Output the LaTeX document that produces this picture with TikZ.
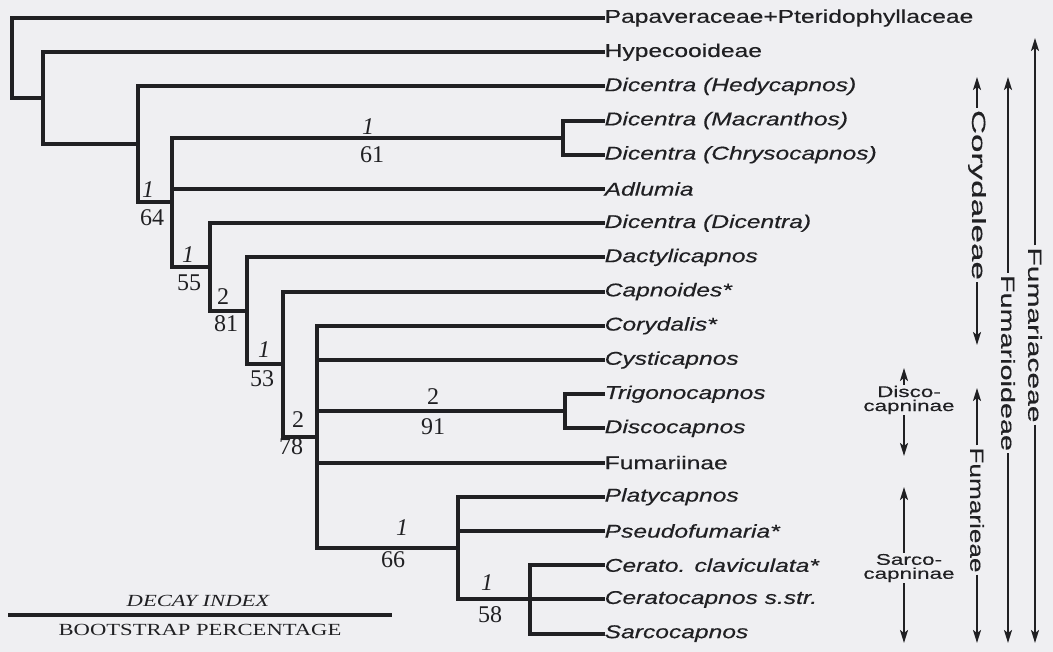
\documentclass[tikz,border=0pt]{standalone}
\usepackage{fontspec}
\usepackage{graphicx}
\usetikzlibrary{arrows.meta}
\newfontfamily\leaffont{Liberation Sans}[FakeStretch=1.33,FakeBold=0.4]
\newfontfamily\grpfont{Liberation Sans}[FakeStretch=1.45,FakeBold=0.3]
\newfontfamily\numfont{Liberation Serif}
\newfontfamily\legfont{Liberation Serif}[FakeStretch=1.33]
\definecolor{ink}{RGB}{32,32,35}
\definecolor{paper}{RGB}{239,239,242}
\newcommand{\stretchlab}[2]{\resizebox{#1}{\height}{#2}}
\begin{document}
\begin{tikzpicture}[x=1pt,y=-1pt,
  br/.style={line width=4.1pt, draw=ink, line join=miter, line cap=rect},
  leaf/.style={anchor=west, inner xsep=1.5pt, inner ysep=0pt, font=\fontsize{18.5}{20}\leaffont, text=ink},
  leafi/.style={leaf, font=\fontsize{18.5}{20}\leaffont\itshape},
  dn/.style={font=\fontsize{24}{26}\numfont\itshape, text=ink, inner sep=0pt},
  bn/.style={font=\fontsize{24}{26}\numfont, text=ink, inner sep=0pt},
  grp/.style={rotate=-90, inner sep=2pt, font=\fontsize{19}{20}\leaffont, text=ink},
  sub/.style={align=center, inner sep=1pt, font=\fontsize{15.5}{14}\grpfont, text=ink},
  arr/.style={line width=1.9pt, draw=ink, -{Stealth[length=13pt,width=8pt,inset=3pt]}},
]
\useasboundingbox (0,0) rectangle (1053,652);
\fill[paper] (0,0) rectangle (1053,652);

% leaves
\node[leaf]  (P)   at (603,18)    {Papaveraceae+Pteridophyllaceae};
\node[leaf]  (H)   at (603,52.2)  {Hypecooideae};
\node[leafi] (Hed) at (603,86.4)  {Dicentra (Hedycapnos)};
\node[leafi] (Mac) at (603,120.6) {Dicentra (Macranthos)};
\node[leafi] (Chr) at (603,154.8) {Dicentra (Chrysocapnos)};
\node[leafi] (Adl) at (603,189)   {Adlumia};
\node[leafi] (DD)  at (603,223.2) {Dicentra (Dicentra)};
\node[leafi] (Dac) at (603,257.4) {Dactylicapnos};
\node[leafi] (Cap) at (603,291.6) {Capnoides*};
\node[leafi] (Cor) at (603,325.8) {Corydalis*};
\node[leafi] (Cys) at (603,360)   {Cysticapnos};
\node[leafi] (Tri) at (603,394.2) {Trigonocapnos};
\node[leafi] (Dis) at (603,428.4) {Discocapnos};
\node[leaf]  (Fum) at (603,462.6) {Fumariinae};
\node[leafi] (Pla) at (603,496.8) {Platycapnos};
\node[leafi] (Pse) at (603,531)   {Pseudofumaria*};
\node[leafi] (Cc)  at (603,565.2) {Cerato. claviculata*};
\node[leafi] (Cs)  at (603,599.4) {Ceratocapnos s.str.};
\node[leafi] (Sa)  at (603,633.6) {Sarcocapnos};

% internal nodes
\coordinate (r)   at (12,98.3);
\coordinate (n2)  at (43,98.3);
\coordinate (n3)  at (138,144.4);
\coordinate (n4)  at (172,202.4);
\coordinate (mc)  at (563,137.7);
\coordinate (n5)  at (210,267);
\coordinate (n6)  at (247,310.9);
\coordinate (n7)  at (283,364.3);
\coordinate (n8)  at (317,437);
\coordinate (td)  at (565,411.3);
\coordinate (n9)  at (458,548.1);
\coordinate (n10) at (530,599.4);

% branches
\draw[br] (P.west) -| (r) -- (n2);
\draw[br] (n2) |- (H.west);   \draw[br] (n2) |- (n3);
\draw[br] (n3) |- (Hed.west); \draw[br] (n3) |- (n4);
\draw[br] (n4) |- (mc);       \draw[br] (n4) |- (Adl.west); \draw[br] (n4) |- (n5);
\draw[br] (mc) |- (Mac.west); \draw[br] (mc) |- (Chr.west);
\draw[br] (n5) |- (DD.west);  \draw[br] (n5) |- (n6);
\draw[br] (n6) |- (Dac.west); \draw[br] (n6) |- (n7);
\draw[br] (n7) |- (Cap.west); \draw[br] (n7) |- (n8);
\draw[br] (n8) |- (Cor.west); \draw[br] (n8) |- (Cys.west); \draw[br] (n8) |- (td);
\draw[br] (n8) |- (Fum.west); \draw[br] (n8) |- (n9);
\draw[br] (td) |- (Tri.west); \draw[br] (td) |- (Dis.west);
\draw[br] (n9) |- (Pla.west); \draw[br] (n9) |- (Pse.west); \draw[br] (n9) |- (n10);
\draw[br] (n10) |- (Cc.west); \draw[br] (n10) |- (Cs.west); \draw[br] (n10) |- (Sa.west);

% support labels
\node[dn] (d64) at (148,190) {1};  \node[bn] (b64) at (152,218) {64};
\node[dn] (d61) at (368,127) {1};  \node[bn] (b61) at (372,155) {61};
\node[dn] (d55) at (188,255) {1};  \node[bn] (b55) at (189,283) {55};
\node[bn] (d81) at (223,297) {2};  \node[bn] (b81) at (226,324) {81};
\node[dn] (d53) at (264,350) {1};  \node[bn] (b53) at (262,379) {53};
\node[bn] (d78) at (298,420) {2};  \node[bn] (b78) at (291,447) {78};
\node[bn] (d91) at (433,397) {2};  \node[bn] (b91) at (433,427) {91};
\node[dn] (d66) at (402,528) {1};  \node[bn] (b66) at (393,560) {66};
\node[dn] (d58) at (487,583) {1};  \node[bn] (b58) at (490,615) {58};

% group brackets
\node[grp] (cory) at (977,195) {\stretchlab{170pt}{Corydaleae}};
\coordinate (coryT) at (977,77);  \coordinate (coryB) at (977,345);
\draw[arr] (cory.west) -- (coryT); \draw[arr] (cory.east) -- (coryB);

\node[grp] (fumo) at (1008,363) {\stretchlab{176pt}{Fumarioideae}};
\coordinate (fumoT) at (1008,77); \coordinate (fumoB) at (1008,643);
\draw[arr] (fumo.west) -- (fumoT); \draw[arr] (fumo.east) -- (fumoB);

\node[grp] (fumc) at (1035,335) {\stretchlab{175pt}{Fumariaceae}};
\coordinate (fumcT) at (1035,38); \coordinate (fumcB) at (1035,643);
\draw[arr] (fumc.west) -- (fumcT); \draw[arr] (fumc.east) -- (fumcB);

\node[grp] (fume) at (977,510) {\stretchlab{125pt}{Fumarieae}};
\coordinate (fumeT) at (977,388); \coordinate (fumeB) at (977,643);
\draw[arr] (fume.west) -- (fumeT); \draw[arr] (fume.east) -- (fumeB);

\node[sub] (disco) at (909,400) {Disco-\\capninae};
\coordinate (discoT) at (904,368); \coordinate (discoB) at (904,456);
\draw[arr] (discoT |- disco.north) -- (discoT);
\draw[arr] (discoB |- disco.south) -- (discoB);

\node[sub] (sarco) at (909,568) {Sarco-\\capninae};
\coordinate (sarcoT) at (904,487); \coordinate (sarcoB) at (904,643);
\draw[arr] (sarcoT |- sarco.north) -- (sarcoT);
\draw[arr] (sarcoB |- sarco.south) -- (sarcoB);

% legend
\node[font=\fontsize{17}{19}\legfont\itshape, text=ink, inner sep=0pt] (decay) at (198,601) {DECAY INDEX};
\coordinate (lgL) at (8,615); \coordinate (lgR) at (392,615);
\draw[line width=3.8pt, draw=ink] (lgL) -- (lgR);
\node[font=\fontsize{17}{19}\legfont, text=ink, inner sep=0pt] (boot) at (200,630) {BOOTSTRAP PERCENTAGE};
\end{tikzpicture}
\end{document}
